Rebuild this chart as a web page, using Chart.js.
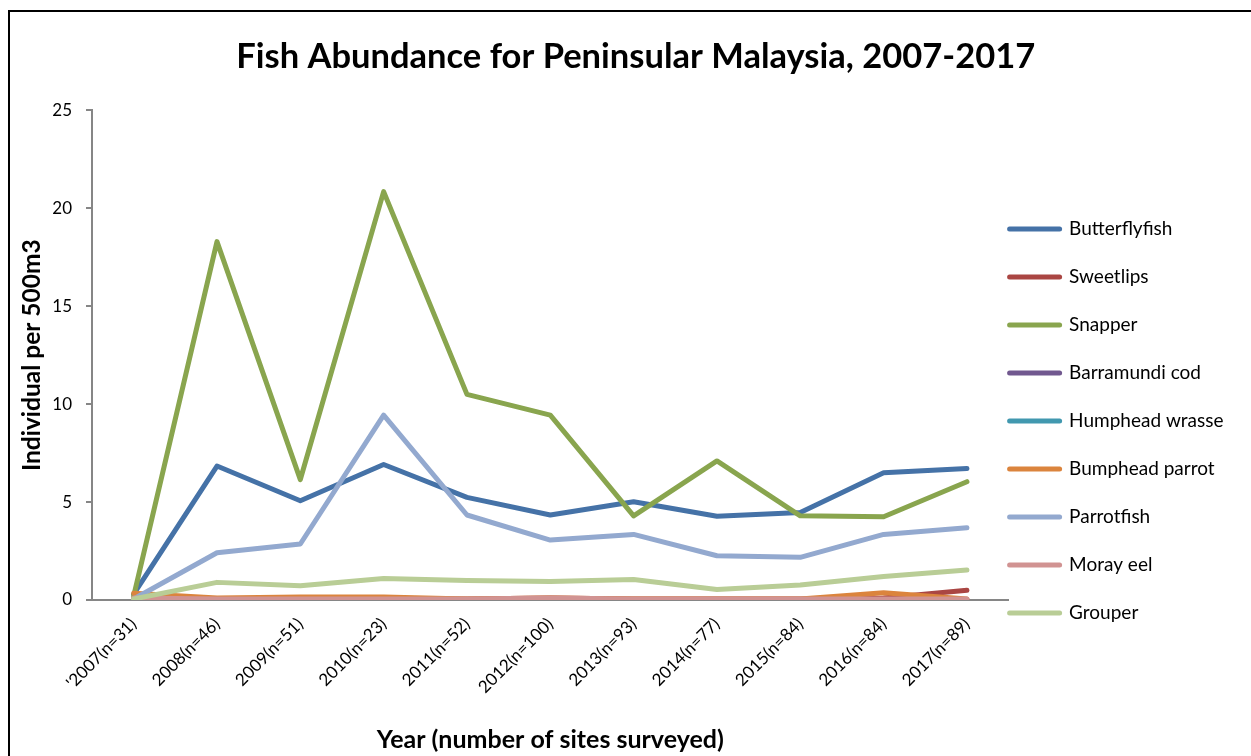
<!DOCTYPE html>
<html>
<head>
<meta charset="utf-8">
<script src="https://cdn.jsdelivr.net/npm/chart.js@4.4.1/dist/chart.umd.min.js"></script>
<style>
  body { margin: 0; overflow: hidden; background: #fff; }
  #frame { position: absolute; left: 8px; top: 10px; width: 1300px; height: 800px; border: 2px solid #000; }
  #chart_fish { position: absolute; left: 0; top: 0; }
</style>
</head>
<body>
<div id="frame"></div>
<canvas id="chart_fish" width="1251" height="756"></canvas>
<script>
// datos
const years = ["'2007(n=31)", "2008(n=46)", "2009(n=51)", "2010(n=23)", "2011(n=52)", "2012(n=100)",
               "2013(n=93)", "2014(n=77)", "2015(n=84)", "2016(n=84)", "2017(n=89)"];

const butterflyfish  = [0.3, 6.84, 5.07, 6.92, 5.24, 4.34, 5.02, 4.28, 4.47, 6.5, 6.72];
const sweetlips      = [0.05, 0.05, 0.05, 0.05, 0.05, 0.1, 0.05, 0.05, 0.05, 0.1, 0.5];
const snapper        = [0.2, 18.3, 6.15, 20.85, 10.5, 9.44, 4.3, 7.1, 4.3, 4.25, 6.04];
const barramundi_cod = [0, 0, 0, 0, 0, 0, 0, 0, 0, 0, 0];
const humphead       = [0, 0, 0, 0, 0, 0, 0, 0, 0, 0, 0];
const bumphead       = [0.35, 0.1, 0.15, 0.15, 0.05, 0.1, 0.05, 0.05, 0.05, 0.37, 0.05];
const parrotfish     = [0.05, 2.41, 2.86, 9.44, 4.34, 3.06, 3.35, 2.26, 2.18, 3.35, 3.69];
const moray_eel      = [0.1, 0.05, 0.05, 0.05, 0.05, 0.1, 0.05, 0.05, 0.05, 0.05, 0.05];
const grouper        = [0.05, 0.9, 0.73, 1.1, 0.99, 0.94, 1.05, 0.54, 0.77, 1.2, 1.53];

const yTicks = [0, 5, 10, 15, 20, 25];

const FONT = "Lato, 'Open Sans', sans-serif";
const AXIS_GREY = "#868686";

function serie(label, data, color, order) {
	return {
		label: label,
		data: data,
		borderColor: color,
		backgroundColor: color,
		borderWidth: 5,
		pointRadius: 0,
		pointHoverRadius: 0,
		tension: 0,
		borderCapStyle: "round",
		borderJoinStyle: "round",
		order: order,
	};
}

// la leyenda de Chart.js empieza "padding" px a la derecha del area; la corremos
const moverLeyenda = {
	id: "moverLeyenda",
	afterLayout(chart) {
		const lg = chart.legend;
		const dx = lg.options.labels.padding - 1;
		const dy = 43;
		lg.left -= dx;
		lg.right -= dx;
		lg.top += dy;
		lg.bottom += dy;
	},
};

const ctx = document.getElementById("chart_fish").getContext("2d");

let chart_fish = new Chart(ctx, {
	type: "line",
	data: {
		labels: years,
		datasets: [
			serie("Butterflyfish", butterflyfish, "#4572A7", 9),
			serie("Sweetlips", sweetlips, "#AA4643", 8),
			serie("Snapper", snapper, "#89A54E", 7),
			serie("Barramundi cod", barramundi_cod, "#71588F", 6),
			serie("Humphead wrasse", humphead, "#4198AF", 5),
			serie("Bumphead parrot", bumphead, "#DB843D", 4),
			serie("Parrotfish", parrotfish, "#93A9CF", 3),
			serie("Moray eel", moray_eel, "#D19392", 2),
			serie("Grouper", grouper, "#B9CD96", 1),
		],
	},
	options: {
		responsive: false,
		animation: false,
		layout: { padding: { left: 10, right: -10.5, top: 0, bottom: 0 } },
		plugins: {
			title: {
				display: true,
				text: "Fish Abundance for Peninsular Malaysia, 2007-2017",
				color: "#000",
				font: { family: FONT, size: 34.5, weight: "bold" },
				padding: { top: 36, bottom: 33 },
			},
			legend: {
				position: "right",
				align: "center",
				labels: {
					color: "#000",
					font: { family: FONT, size: 19 },
					usePointStyle: true,
					pointStyleWidth: 50,
					padding: 29,
					sort: (a, b) => a.datasetIndex - b.datasetIndex,
					generateLabels(chart) {
						const items = Chart.defaults.plugins.legend.labels.generateLabels(chart);
						items.forEach((it) => {
							it.pointStyle = "line";
							it.lineWidth = 5;
							it.lineCap = "round";
						});
						return items;
					},
				},
			},
			tooltip: { enabled: false },
		},
		scales: {
			x: {
				offset: true,
				grid: { display: false },
				border: { display: true, color: AXIS_GREY, width: 2 },
				ticks: {
					color: "#000",
					font: { family: FONT, size: 17 },
					minRotation: 45,
					maxRotation: 45,
					padding: 6,
					autoSkip: false,
				},
				title: {
					display: true,
					text: "Year (number of sites surveyed)",
					color: "#000",
					font: { family: FONT, size: 25, weight: "bold" },
					padding: { top: 2, bottom: 1 },
				},
				afterFit(scale) { scale.height = 156; },
			},
			y: {
				min: 0,
				max: 25,
				afterBuildTicks(scale) { scale.ticks = yTicks.map((v) => ({ value: v })); },
				grid: { drawOnChartArea: false, drawTicks: true, tickLength: 6, color: AXIS_GREY, lineWidth: 2 },
				border: { display: true, color: AXIS_GREY, width: 2 },
				ticks: {
					color: "#000",
					font: { family: FONT, size: 17 },
					padding: 14,
				},
				title: {
					display: true,
					text: "Individual per 500m3",
					color: "#000",
					font: { family: FONT, size: 24.5, weight: "bold" },
					padding: { top: 7, bottom: 7 },
				},
				afterFit(scale) { scale.width = 82; },
			},
		},
	},
	plugins: [moverLeyenda],
});
</script>
</body>
</html>
